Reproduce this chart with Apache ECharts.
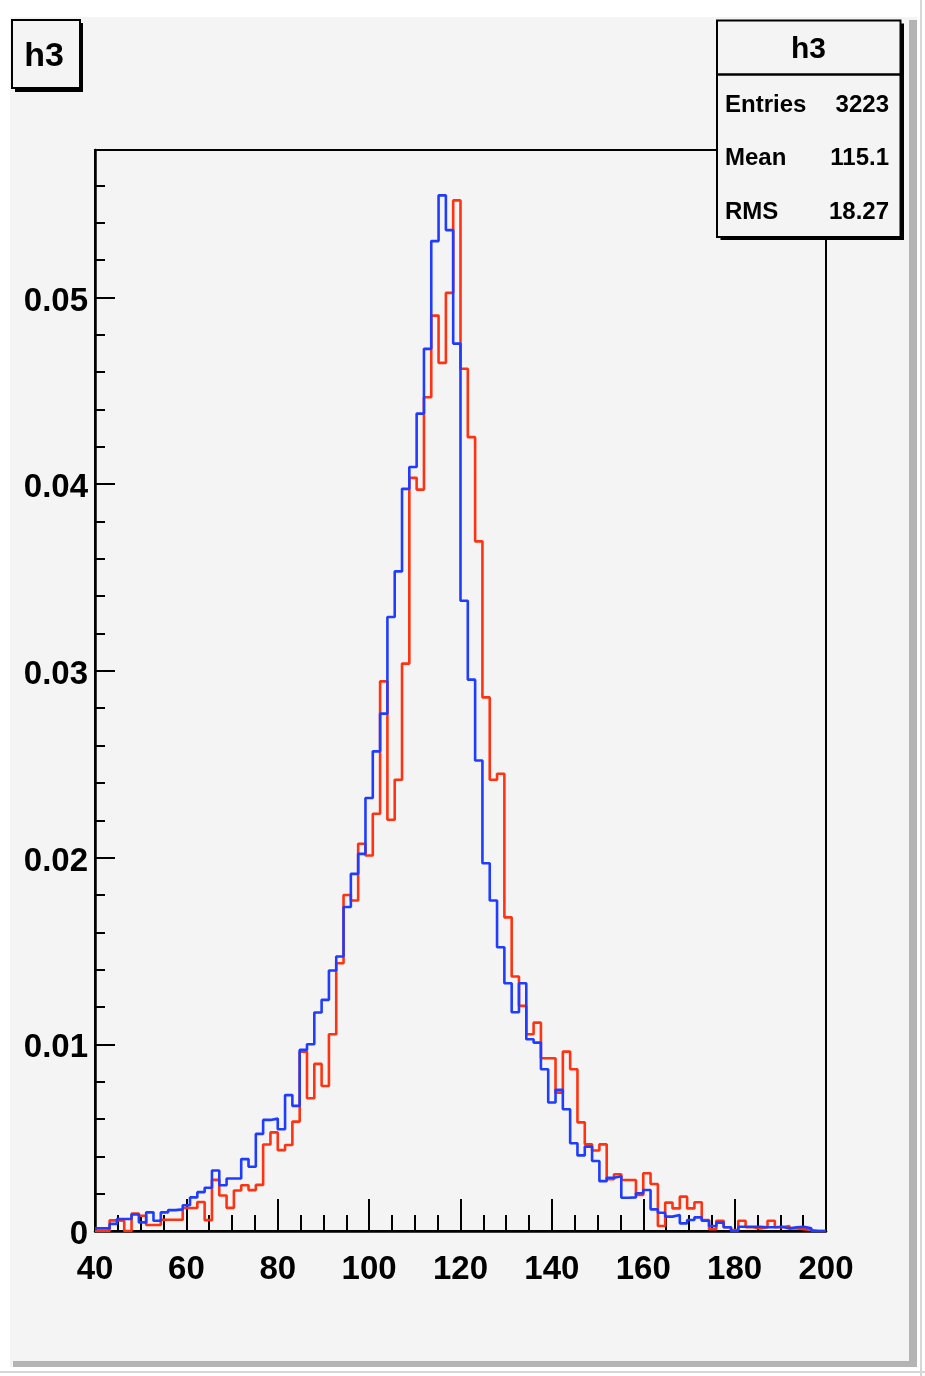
<!DOCTYPE html>
<html>
<head>
<meta charset="utf-8">
<script src="https://cdn.jsdelivr.net/npm/echarts@6.0.0/dist/echarts.min.js"></script>
<style>
  html, body { margin: 0; padding: 0; background: #ffffff; }
  #chart { width: 925px; height: 1376px; }
</style>
</head>
<body>
<div id="chart"></div>
<script>
// Histogram binning: 100 bins from 40 to 200
const binLow = 40;
const binHigh = 200;
const binCount = 100;

// Red histogram (normalized bin contents)
const redValues = [
  0.00000,0.00000,0.00057,0.00055,0.00000,0.00093,0.00082,0.00032,0.00032,0.00060,
  0.00060,0.00060,0.00123,0.00123,0.00155,0.00058,0.00274,0.00190,0.00124,0.00217,
  0.00245,0.00219,0.00247,0.00463,0.00528,0.00433,0.00461,0.00586,0.00961,0.00711,
  0.00895,0.00777,0.01054,0.01434,0.01800,0.01770,0.02074,0.02011,0.02235,0.02944,
  0.02203,0.02417,0.03039,0.04034,0.03971,0.04466,0.04903,0.04650,0.05025,0.05520,
  0.04618,0.04252,0.03694,0.02858,0.02417,0.02449,0.01680,0.01363,0.01206,0.01054,
  0.01116,0.00925,0.00925,0.00741,0.00961,0.00866,0.00582,0.00464,0.00431,0.00464,
  0.00277,0.00304,0.00273,0.00273,0.00193,0.00309,0.00252,0.00027,0.00152,0.00121,
  0.00184,0.00121,0.00154,0.00059,0.00010,0.00055,0.00020,0.00005,0.00055,0.00020,
  0.00014,0.00020,0.00055,0.00020,0.00027,0.00014,0.00010,0.00005,0.00000,0.00000
];

// Blue histogram (normalized bin contents)
const blueValues = [
  0.00014,0.00014,0.00038,0.00064,0.00064,0.00088,0.00046,0.00100,0.00055,0.00100,
  0.00112,0.00116,0.00138,0.00180,0.00208,0.00232,0.00324,0.00245,0.00281,0.00281,
  0.00385,0.00344,0.00520,0.00595,0.00602,0.00545,0.00728,0.00670,0.00970,0.01000,
  0.01170,0.01238,0.01395,0.01470,0.01735,0.01913,0.02020,0.02319,0.02569,0.02771,
  0.03289,0.03533,0.03975,0.04092,0.04378,0.04725,0.05302,0.05547,0.05361,0.04753,
  0.03376,0.02953,0.02520,0.01970,0.01770,0.01520,0.01327,0.01172,0.01327,0.01027,
  0.01009,0.00866,0.00688,0.00756,0.00652,0.00470,0.00405,0.00452,0.00375,0.00267,
  0.00285,0.00293,0.00178,0.00180,0.00202,0.00220,0.00116,0.00098,0.00077,0.00086,
  0.00041,0.00059,0.00073,0.00055,0.00027,0.00045,0.00020,0.00000,0.00023,0.00023,
  0.00023,0.00020,0.00020,0.00023,0.00014,0.00020,0.00023,0.00014,0.00000,0.00000
];

// Axis ranges / ticks
const yMax = 0.0579;
const yMajor = 0.01;
const yMinor = 0.002;
const xMajor = 20;

// Stats box text
const histTitle = 'h3';
const statsLabels = ['Entries', 'Mean', 'RMS'];
const statsValues = ['3223', '115.1', '18.27'];

const binWidth = (binHigh - binLow) / binCount;
function stepData(values) {
  const d = values.map((v, i) => [binLow + i * binWidth, v]);
  d.push([binHigh, values[values.length - 1]]);
  return d;
}

const FONT = '"Liberation Sans", Helvetica, Arial, sans-serif';
const PAD = '#f4f4f4';

const statsRowsY = [105, 158.5, 212];
const graphic = [
  // canvas border highlights / shadows
  { type: 'rect', z: 100, silent: true, shape: { x: 0, y: 0, width: 925, height: 17 }, style: { fill: '#ffffff' } },
  { type: 'rect', z: 100, silent: true, shape: { x: 0, y: 0, width: 10, height: 1376 }, style: { fill: '#ffffff' } },
  { type: 'rect', z: 100, silent: true, shape: { x: 917, y: 0, width: 8, height: 1376 }, style: { fill: '#ffffff' } },
  { type: 'rect', z: 100, silent: true, shape: { x: 0, y: 1367, width: 925, height: 9 }, style: { fill: '#ffffff' } },
  { type: 'rect', z: 100, silent: true, shape: { x: 909, y: 20, width: 8, height: 1347 }, style: { fill: '#b4b4b4' } },
  { type: 'rect', z: 100, silent: true, shape: { x: 13, y: 1361, width: 904, height: 6 }, style: { fill: '#b4b4b4' } },
  { type: 'rect', z: 100, silent: true, shape: { x: 0, y: 1371, width: 925, height: 2 }, style: { fill: '#d6d6d6' } },
  { type: 'rect', z: 100, silent: true, shape: { x: 920, y: 0, width: 2, height: 1376 }, style: { fill: '#d6d6d6' } },
  // title box
  { type: 'rect', z: 100, silent: true, shape: { x: 15, y: 23, width: 68, height: 69 }, style: { fill: '#000' } },
  { type: 'rect', z: 101, silent: true, shape: { x: 12, y: 20, width: 68, height: 68 }, style: { fill: PAD, stroke: '#000', lineWidth: 2 } },
  { type: 'text', z: 102, silent: true, style: { text: histTitle, x: 44, y: 57, font: 'bold 34px ' + FONT, fill: '#000', align: 'center', verticalAlign: 'middle', textAlign: 'center', textVerticalAlign: 'middle' } },
  // stats box
  { type: 'rect', z: 100, silent: true, shape: { x: 720.5, y: 23.5, width: 183.5, height: 216.5 }, style: { fill: '#000' } },
  { type: 'rect', z: 101, silent: true, shape: { x: 717, y: 20.5, width: 183.5, height: 216.5 }, style: { fill: PAD, stroke: '#000', lineWidth: 2 } },
  { type: 'line', z: 102, silent: true, shape: { x1: 717, y1: 74.5, x2: 900.5, y2: 74.5 }, style: { stroke: '#000', lineWidth: 2.5 } },
  { type: 'text', z: 102, silent: true, style: { text: histTitle, x: 808.5, y: 50, font: 'bold 30px ' + FONT, fill: '#000', align: 'center', verticalAlign: 'middle', textAlign: 'center', textVerticalAlign: 'middle' } }
];
statsLabels.forEach((lab, i) => {
  graphic.push({ type: 'text', z: 102, silent: true, style: { text: lab, x: 725, y: statsRowsY[i], font: 'bold 24px ' + FONT, fill: '#000', align: 'left', verticalAlign: 'middle', textAlign: 'left', textVerticalAlign: 'middle' } });
  graphic.push({ type: 'text', z: 102, silent: true, style: { text: statsValues[i], x: 889, y: statsRowsY[i], font: 'bold 24px ' + FONT, fill: '#000', align: 'right', verticalAlign: 'middle', textAlign: 'right', textVerticalAlign: 'middle' } });
});

const chart = echarts.init(document.getElementById('chart'), null, { renderer: 'canvas' });
chart.setOption({
  animation: false,
  backgroundColor: PAD,
  grid: {
    left: 95, top: 150, right: 99, bottom: 145,
    containLabel: false, outerBoundsMode: 'none',
    show: true, borderColor: '#000', borderWidth: 2, backgroundColor: 'transparent'
  },
  xAxis: {
    type: 'value', min: binLow, max: binHigh, interval: xMajor,
    axisLine: { show: true, onZero: false, lineStyle: { color: '#000', width: 2.5 } },
    axisTick: { show: true, inside: true, length: 32, lineStyle: { color: '#000', width: 2 } },
    minorTick: { show: true, splitNumber: 4, length: 16, lineStyle: { color: '#000', width: 2 } },
    splitLine: { show: false },
    axisLabel: { color: '#000', fontFamily: FONT, fontWeight: 'bold', fontSize: 33, margin: 22 }
  },
  yAxis: [
    {
      type: 'value', min: 0, max: yMax, interval: yMajor,
      axisLine: { show: true, lineStyle: { color: '#000', width: 2.5 } },
      axisTick: { show: true, inside: true, length: 20, lineStyle: { color: '#000', width: 2 } },
      splitLine: { show: false },
      axisLabel: {
        color: '#000', fontFamily: FONT, fontWeight: 'bold', fontSize: 33, margin: 7,
        showMaxLabel: false,
        formatter: v => '{t|' + (Math.abs(v) < 1e-9 ? '0' : (Math.round(v * 100) / 100).toFixed(2)) + '}',
        rich: { t: { color: '#000', fontFamily: FONT, fontWeight: 'bold', fontSize: 33, padding: [8, 0, 0, 0] } }
      }
    },
    {
      type: 'value', min: 0, max: yMax, interval: yMinor, position: 'left', offset: 0,
      axisLine: { show: false },
      axisTick: { show: true, inside: true, length: 10, lineStyle: { color: '#000', width: 2 } },
      splitLine: { show: false },
      axisLabel: { show: false }
    }
  ],
  series: [
    {
      name: 'red', type: 'line', step: 'end', data: stepData(redValues),
      yAxisIndex: 0, symbol: 'none', showSymbol: false, clip: true, z: 3,
      lineStyle: { color: '#ff3311', width: 2.6 }, itemStyle: { color: '#ff3311' }
    },
    {
      name: 'blue', type: 'line', step: 'end', data: stepData(blueValues),
      yAxisIndex: 0, symbol: 'none', showSymbol: false, clip: true, z: 4,
      lineStyle: { color: '#1f3cff', width: 2.6 }, itemStyle: { color: '#1f3cff' }
    }
  ],
  graphic: graphic
});
</script>
</body>
</html>
